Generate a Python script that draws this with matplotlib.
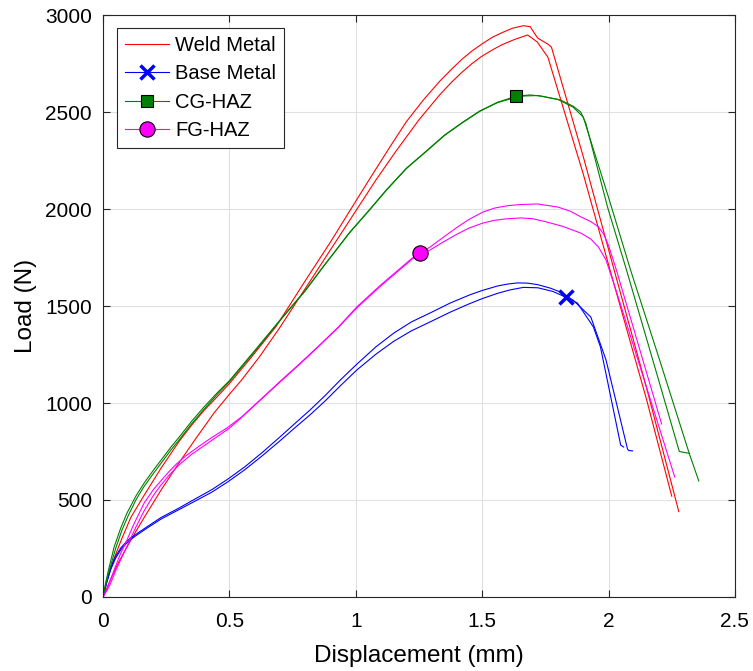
import numpy as np
import matplotlib
matplotlib.use("Agg")
import matplotlib.pyplot as plt
from matplotlib.lines import Line2D

plt.rcParams['font.family'] = ['Liberation Sans', 'DejaVu Sans']

#two specimens per material
weld1_x = [0, 0.016, 0.04, 0.071, 0.11, 0.163, 0.23, 0.3, 0.35, 0.4, 0.45, 0.5, 0.58, 0.685, 0.8, 0.9,
           0.976, 1.05, 1.135, 1.2, 1.266, 1.333, 1.38, 1.42, 1.46, 1.504, 1.54, 1.58, 1.62, 1.663,
           1.69, 1.71, 1.72, 1.76, 1.774, 1.9, 2.02, 2.15, 2.278]
weld1_y = [0, 88, 185, 290, 410, 525, 665, 800, 885, 962, 1030, 1100, 1225, 1395, 1630, 1830,
           1990, 2145, 2320, 2450, 2560, 2660, 2722, 2772, 2815, 2855, 2885, 2910, 2932, 2945,
           2940, 2900, 2881, 2850, 2835, 2270, 1696, 1080, 440]
weld2_x = [0, 0.03, 0.06, 0.095, 0.13, 0.163, 0.23, 0.3, 0.365, 0.44, 0.5, 0.548, 0.62, 0.7, 0.8,
           0.9, 1.0, 1.08, 1.16, 1.25, 1.333, 1.38, 1.42, 1.46, 1.496, 1.54, 1.58, 1.63, 1.68,
           1.718, 1.76, 1.9, 2.02, 2.15, 2.25]
weld2_y = [0, 90, 175, 258, 338, 410, 552, 690, 813, 950, 1045, 1118, 1240, 1390, 1590,
           1790, 1990, 2150, 2300, 2460, 2590, 2655, 2705, 2750, 2785, 2820, 2848, 2875, 2897,
           2861, 2783, 2180, 1620, 1020, 520]

base1_x = [0, 0.015, 0.032, 0.05, 0.07, 0.09, 0.11, 0.14, 0.18, 0.23, 0.3, 0.361, 0.43, 0.492,
           0.56, 0.63, 0.7, 0.758, 0.82, 0.88, 0.94, 1.004, 1.08, 1.15, 1.22, 1.294, 1.373, 1.45,
           1.5, 1.56, 1.6, 1.639, 1.68, 1.72, 1.77, 1.81, 1.86, 1.93, 1.99, 2.075, 2.08, 2.095]
base1_y = [0, 80, 155, 210, 252, 282, 305, 332, 367, 410, 458, 503, 553, 606,
           670, 745, 825, 893, 965, 1040, 1120, 1200, 1290, 1360, 1418, 1464, 1515, 1557,
           1580, 1603, 1613, 1619, 1618, 1610, 1592, 1572, 1530, 1443, 1222, 763, 755, 753]
base2_x = [0, 0.015, 0.03, 0.05, 0.07, 0.09, 0.11, 0.14, 0.18, 0.23, 0.3, 0.361, 0.43, 0.492,
           0.56, 0.63, 0.7, 0.758, 0.82, 0.88, 0.94, 1.004, 1.08, 1.15, 1.22, 1.294, 1.373, 1.45,
           1.5, 1.56, 1.61, 1.663, 1.72, 1.78, 1.83, 1.877, 1.94, 1.968, 2.048, 2.06]
base2_y = [0, 75, 140, 200, 243, 273, 297, 325, 360, 402, 450, 492, 540, 592,
           655, 728, 805, 871, 940, 1012, 1090, 1170, 1252, 1318, 1372, 1418, 1468, 1512,
           1538, 1565, 1583, 1596, 1594, 1575, 1546, 1515, 1392, 1289, 783, 773]

cg1_x = [0, 0.01, 0.02, 0.044, 0.07, 0.095, 0.13, 0.163, 0.2, 0.23, 0.27, 0.3, 0.35, 0.4, 0.45,
         0.5, 0.6, 0.71, 0.8, 0.87, 0.976, 1.05, 1.122, 1.2, 1.28, 1.35, 1.42, 1.49, 1.56, 1.635,
         1.69, 1.734, 1.81, 1.86, 1.89, 1.91, 1.996, 2.071, 2.2, 2.28, 2.32]
cg1_y = [0, 70, 130, 258, 355, 433, 520, 588, 655, 706, 775, 822, 905, 980, 1050,
         1115, 1270, 1443, 1580, 1701, 1880, 1990, 2100, 2210, 2300, 2380, 2445, 2505, 2550, 2582,
         2588, 2582, 2562, 2530, 2500, 2443, 2010, 1686, 1110, 750, 740]
cg2_x = [0, 0.01, 0.02, 0.05, 0.075, 0.1, 0.13, 0.16, 0.2, 0.23, 0.27, 0.3, 0.35, 0.4, 0.45,
         0.5, 0.6, 0.71, 0.8, 0.87, 0.976, 1.05, 1.122, 1.2, 1.28, 1.35, 1.42, 1.49, 1.56, 1.65,
         1.72, 1.8, 1.86, 1.90, 2.0, 2.087, 2.2, 2.32, 2.357]
cg2_y = [0, 60, 115, 250, 345, 420, 500, 565, 638, 690, 760, 808, 892, 968, 1042,
         1110, 1265, 1440, 1578, 1700, 1878, 1988, 2098, 2208, 2298, 2378, 2443, 2503, 2548, 2582,
         2585, 2565, 2525, 2474, 2060, 1686, 1230, 737, 598]

fg1_x = [0, 0.015, 0.03, 0.05, 0.07, 0.095, 0.12, 0.163, 0.2, 0.23, 0.26, 0.294, 0.33, 0.381,
         0.43, 0.49, 0.55, 0.6, 0.65, 0.706, 0.78, 0.85, 0.93, 1.004, 1.1, 1.226, 1.254, 1.294,
         1.35, 1.4, 1.45, 1.504, 1.55, 1.6, 1.65, 1.72, 1.8, 1.85, 1.89, 1.93, 1.96, 1.98, 2.0,
         2.03, 2.1, 2.21]
fg1_y = [0, 40, 90, 160, 225, 294, 370, 485, 555, 600, 645, 690, 730, 778,
         822, 871, 930, 990, 1050, 1118, 1205, 1290, 1390, 1495, 1610, 1750, 1773, 1804,
         1858, 1905, 1948, 1985, 2005, 2017, 2023, 2026, 2010, 1988, 1960, 1935, 1908, 1872, 1812,
         1690, 1380, 892]
fg2_x = [0, 0.015, 0.03, 0.05, 0.07, 0.1, 0.13, 0.163, 0.2, 0.23, 0.26, 0.3, 0.35, 0.4, 0.45,
         0.5, 0.55, 0.6, 0.65, 0.706, 0.78, 0.85, 0.93, 1.004, 1.1, 1.226, 1.294, 1.35, 1.4, 1.45,
         1.504, 1.55, 1.6, 1.655, 1.7, 1.75, 1.82, 1.89, 1.93, 1.96, 1.99, 2.03, 2.1, 2.262]
fg2_y = [0, 32, 70, 135, 192, 275, 360, 445, 525, 578, 625, 680, 735, 780, 825,
         870, 928, 988, 1048, 1115, 1202, 1288, 1388, 1490, 1605, 1745, 1789, 1833, 1870, 1903,
         1928, 1942, 1950, 1954, 1950, 1935, 1910, 1876, 1845, 1804, 1737, 1580, 1290, 618]

x_ticks = [0, 0.5, 1, 1.5, 2, 2.5]
x_ticklabels = ["0", "0.5", "1", "1.5", "2", "2.5"]
y_ticks = [0, 500, 1000, 1500, 2000, 2500, 3000]

fig = plt.figure(figsize=(7.53, 6.71), dpi=100)
ax = fig.add_axes([0.1368, 0.1103, 0.8392, 0.8673])

lw = 0.8
ax.plot(weld1_x, weld1_y, color="#ff0000", lw=lw)
ax.plot(weld2_x, weld2_y, color="#ff0000", lw=lw)
ax.plot(base1_x, base1_y, color="#0000ff", lw=lw)
ax.plot(base2_x, base2_y, color="#0000ff", lw=lw)
ax.plot(cg1_x, cg1_y, color="#008000", lw=lw)
ax.plot(cg2_x, cg2_y, color="#008000", lw=lw)
ax.plot(fg1_x, fg1_y, color="#ff00ff", lw=lw)
ax.plot(fg2_x, fg2_y, color="#ff00ff", lw=lw)

#one marker per material (weld metal has none)
i_b = base2_x.index(1.83)
i_c = cg1_x.index(1.635)
i_f = fg1_x.index(1.254)
ax.plot(base2_x[i_b], base2_y[i_b], marker="x", ms=10.5, mew=2.5, color="#0000ff", ls="none")
ax.plot(cg1_x[i_c], cg1_y[i_c], marker="s", ms=9, mfc="#008000", mec="black", mew=0.8, ls="none")
ax.plot(fg1_x[i_f], fg1_y[i_f], marker="o", ms=11, mfc="#ff00ff", mec="black", mew=0.8, ls="none")

handles = [
    Line2D([], [], color="#ff0000", lw=lw),
    Line2D([], [], color="#0000ff", lw=lw, marker="x", ms=10.5, mew=2.5),
    Line2D([], [], color="#008000", lw=lw, marker="s", ms=9, mfc="#008000", mec="black", mew=0.8),
    Line2D([], [], color="#ff00ff", lw=lw, marker="o", ms=11, mfc="#ff00ff", mec="black", mew=0.8),
]
leg = ax.legend(handles, ["Weld Metal", "Base Metal", "CG-HAZ", "FG-HAZ"], loc="upper left",
                bbox_to_anchor=(0.0222, 0.9777), borderaxespad=0,
                fontsize=14.5, frameon=True, fancybox=False, framealpha=1,
                edgecolor="0.15", handlelength=2.2, handletextpad=0.3,
                labelspacing=0.46, borderpad=0.4)
leg.get_frame().set_linewidth(0.8)

ax.set_xlim(0, 2.5)
ax.set_ylim(0, 3000)
ax.set_xticks(x_ticks)
ax.set_xticklabels(x_ticklabels)
ax.set_yticks(y_ticks)
ax.grid(True, color="0.88", lw=0.8)
ax.set_axisbelow(True)
ax.tick_params(direction="in", length=5, width=0.8, top=True, right=True,
               labelsize=15, colors="0.15", labelcolor="black")
ax.tick_params(axis="x", pad=11)
ax.tick_params(axis="y", pad=8)
for s in ax.spines.values():
    s.set_color("0.15")
    s.set_linewidth(0.8)

ax.set_xlabel("Displacement (mm)", fontsize=17.5, labelpad=10)
ax.set_ylabel("Load (N)", fontsize=17.5, labelpad=6)

plt.savefig("out.png", dpi=100)
